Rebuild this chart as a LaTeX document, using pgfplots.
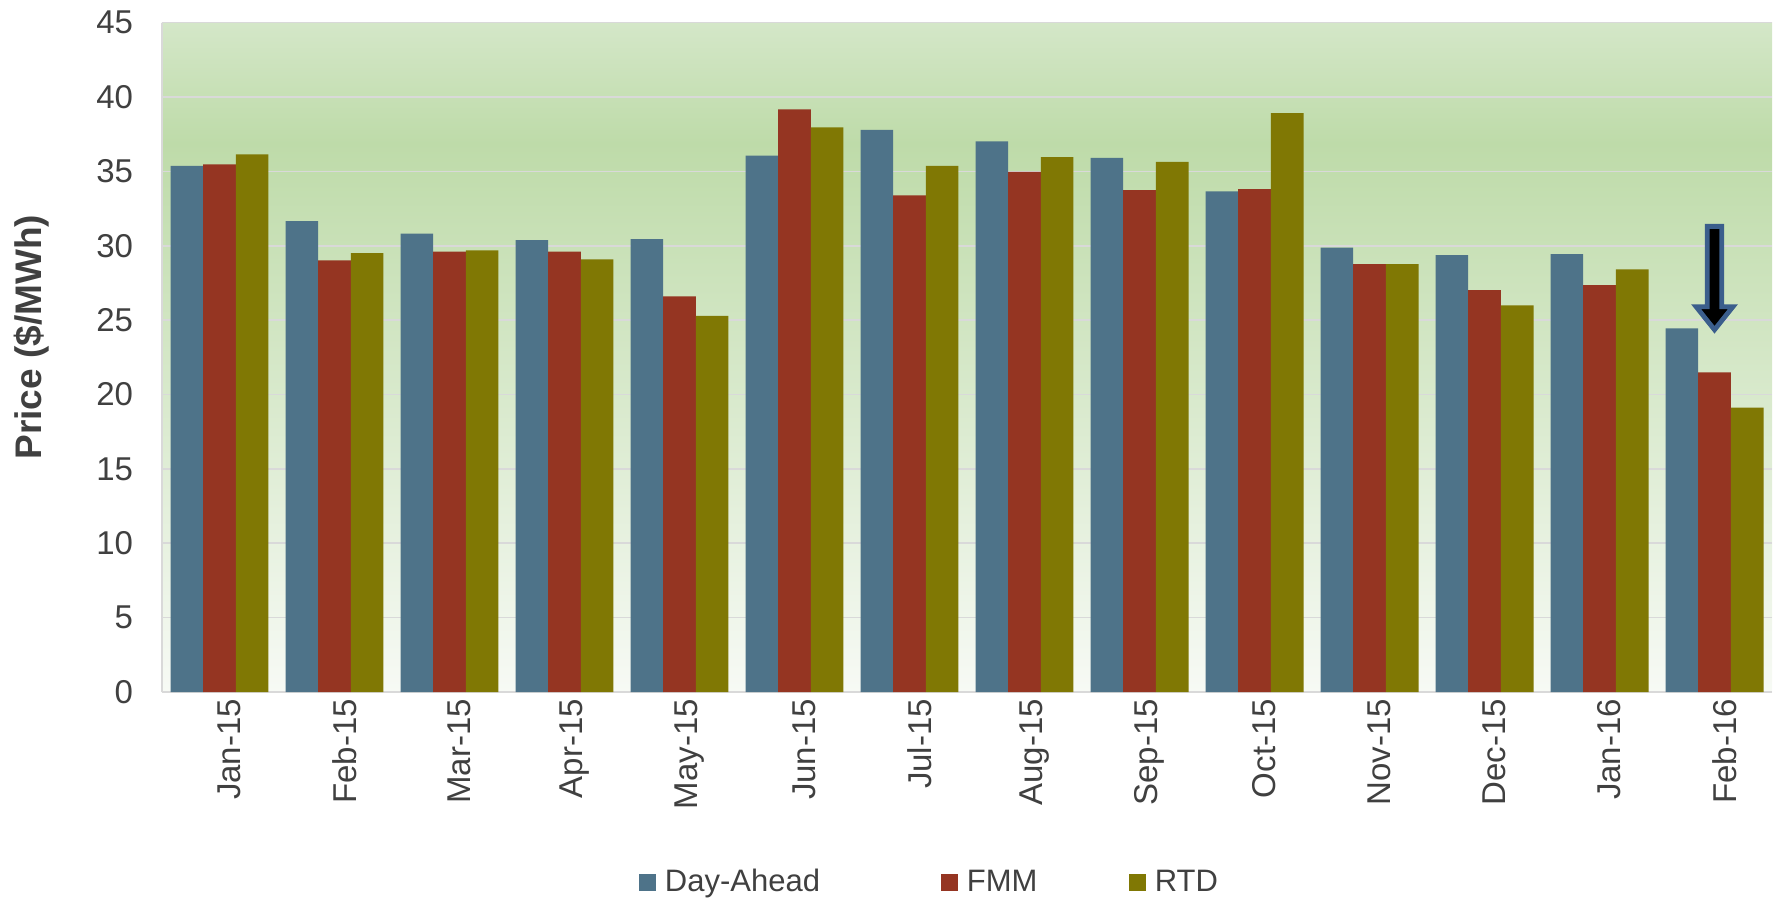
\documentclass[border=0pt]{standalone}
\usepackage{pgfplots}
\pgfplotsset{compat=1.18}
\usepackage{fontspec}
\setmainfont{Liberation Sans}
\definecolor{da}{HTML}{4E7389}
\definecolor{fmm}{HTML}{953522}
\definecolor{rtd}{HTML}{807804}
\definecolor{bgtop}{HTML}{D4E7C8}
\definecolor{bgmid}{HTML}{BEDBA9}
\definecolor{bgbot}{HTML}{F7FAF5}
\definecolor{txt}{HTML}{404040}
\definecolor{arrowblue}{HTML}{3B5E8C}
\definecolor{gridc}{HTML}{D9D9D9}
\pgfdeclareverticalshading{greenbg}{100bp}{color(0bp)=(bgbot); color(25bp)=(bgbot); color(66bp)=(bgmid); color(75bp)=(bgtop); color(100bp)=(bgtop)}
\pgfplotstableread{
x DA FMM RTD
0 35.36 35.47 36.14
1 31.66 29.01 29.51
2 30.81 29.60 29.69
3 30.38 29.60 29.08
4 30.45 26.59 25.29
5 36.05 39.17 37.96
6 37.78 33.39 35.36
7 37.02 34.96 35.96
8 35.90 33.74 35.63
9 33.65 33.81 38.92
10 29.87 28.77 28.77
11 29.37 27.02 25.99
12 29.44 27.35 28.41
13 24.45 21.48 19.12
}\prices
\begin{document}
\begin{tikzpicture}
\begin{axis}[
  scale only axis, width=805bp, height=334.7bp,
  ybar=0pt, bar width=0.284,
  xmin=-0.5, xmax=13.5, ymin=0, ymax=45,
  xtick={0,...,13},
  xticklabels={Jan-15,Feb-15,Mar-15,Apr-15,May-15,Jun-15,Jul-15,Aug-15,Sep-15,Oct-15,Nov-15,Dec-15,Jan-16,Feb-16},
  ytick={0,5,...,45},
  major tick length=0pt,
  axis x line*=bottom, axis y line*=left,
  axis line style={draw=gridc, line width=0.8bp},
  ymajorgrids, grid style={draw=gridc, line width=0.8bp},
  axis background/.style={shade, shading=greenbg},
  /pgf/number format/assume math mode=true,
  tick label style={font=\fontsize{16.5bp}{19bp}\selectfont, text=txt},
  xticklabel style={rotate=90, anchor=east, yshift=-5bp},
  yticklabel style={xshift=-11bp},
  ylabel={Price (\$/MWh)},
  ylabel style={at={(axis description cs:-0.0807,0.53)}, anchor=center, font=\bfseries\fontsize{18.5bp}{21bp}\selectfont, text=txt},
  legend columns=3,
  legend style={at={(axis description cs:0.296,-0.284)}, anchor=west, draw=none, fill=none, inner sep=0pt,
    font=\fontsize{15.5bp}{18bp}\selectfont, text=txt,
    /tikz/every odd column/.append style={column sep=2.5bp}},
  legend image code/.code={\fill[#1] (0bp,-4.2bp) rectangle (8.5bp,4.2bp);},
  every axis plot/.append style={draw=none},
]
\addplot[fill=da] table[x=x,y=DA]{\prices};
\addplot[fill=fmm] table[x=x,y=FMM]{\prices};
\addplot[fill=rtd] table[x=x,y=RTD]{\prices};
\addlegendentry{\makebox[136bp][l]{Day-Ahead}}
\addlegendentry{\makebox[79bp][l]{FMM}}
\addlegendentry{RTD}
\draw[draw=arrowblue, line width=2.4bp, fill=black, line join=miter]
  (axis cs:12.937,31.3) -- (axis cs:13.063,31.3) -- (axis cs:13.063,25.9) -- (axis cs:13.16,25.9)
  -- (axis cs:13,24.35) -- (axis cs:12.84,25.9) -- (axis cs:12.937,25.9) -- cycle;
\end{axis}
\pgfresetboundingbox
\useasboundingbox (-81bp,-106.5bp) rectangle (806.5bp,346bp);
\end{tikzpicture}
\end{document}
